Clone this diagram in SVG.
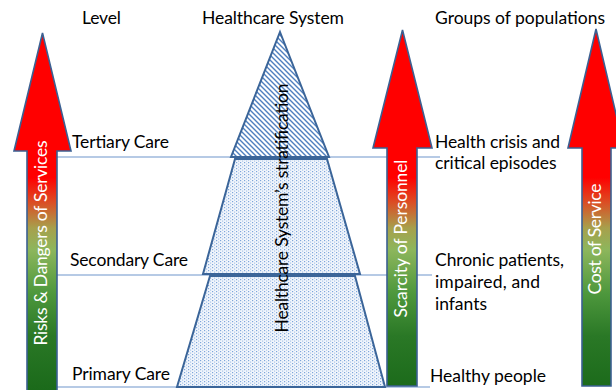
<svg xmlns="http://www.w3.org/2000/svg" width="616" height="390" viewBox="0 0 616 390">
<defs>
<style>
.t{font-family:Lato,"Liberation Sans",sans-serif;font-size:17.5px;fill:#000}
.w{font-family:Lato,"Liberation Sans",sans-serif;font-size:17.5px;fill:#fff}
.arrow{fill:url(#grad);stroke:#3B6092;stroke-width:1.6;stroke-linejoin:miter}
.tier{stroke:#3B6599;stroke-width:2;stroke-linejoin:miter}
.lvl{stroke:#6F96CC;stroke-width:1.2;fill:none}
</style>
<linearGradient id="grad" gradientUnits="userSpaceOnUse" x1="0" y1="30" x2="0" y2="390">
<stop offset="0" stop-color="#FF0000"/>
<stop offset="0.41" stop-color="#FF0000"/>
<stop offset="0.48" stop-color="#DA4F25"/>
<stop offset="0.55" stop-color="#A7A04C"/>
<stop offset="0.61" stop-color="#8DB65C"/>
<stop offset="0.73" stop-color="#4E983D"/>
<stop offset="0.85" stop-color="#2A7826"/>
<stop offset="1" stop-color="#1B6A1A"/>
</linearGradient>
<pattern id="hatch" width="5" height="5" patternUnits="userSpaceOnUse">
<rect width="5" height="5" fill="#fff"/>
<path d="M0,0 L5,5 M-1,4 L1,6 M4,-1 L6,1" stroke="#4F7FBF" stroke-width="1.4"/>
</pattern>
<pattern id="dots" width="4" height="3" patternUnits="userSpaceOnUse">
<rect width="4" height="3" fill="#F2F6FC"/>
<rect x="0" y="0" width="1.2" height="1.2" fill="#7FA6DA"/>
<rect x="2" y="1.5" width="1.2" height="1.2" fill="#A9C4E8"/>
</pattern>
</defs>

<g id="connectors">
<line class="lvl" x1="50" y1="157" x2="440" y2="157"/>
<line class="lvl" x1="50" y1="275" x2="432" y2="275"/>
<line class="lvl" x1="50" y1="387" x2="430" y2="387"/>
</g>

<g id="headers">
<text class="t" x="82" y="24" textLength="39">Level</text>
<text class="t" x="202" y="24" textLength="142">Healthcare System</text>
<text class="t" x="435" y="24" textLength="170">Groups of populations</text>
</g>

<g id="pyramid">
<polygon class="tier" fill="url(#dots)" points="210,276 355,276 385,387 177,387"/>
<polygon class="tier" fill="url(#dots)" points="235,159 327,159 360,274 203,274"/>
<polygon class="tier" fill="url(#hatch)" points="280,32 329,157 231,157"/>
<text class="t" transform="translate(288,208) rotate(-90)" text-anchor="middle" textLength="249">Healthcare System’s stratification</text>
</g>

<g id="arrow-risks">
<path class="arrow" d="M42.5,33 L71,151 L57,151 L57,392 L27,392 L27,151 L14,151 Z"/>
<text class="w" transform="translate(47,243) rotate(-90)" text-anchor="middle" textLength="205">Risks &amp; Dangers of Services</text>
</g>

<g id="arrow-scarcity">
<path class="arrow" d="M402.5,30 L432,148 L417,148 L417,386 L387,386 L387,148 L373,148 Z"/>
<text class="w" transform="translate(407,238.5) rotate(-90)" text-anchor="middle" textLength="158">Scarcity of Personnel</text>
</g>

<g id="arrow-cost">
<path class="arrow" d="M596,29 L624,148 L611,148 L611,386 L582,386 L582,148 L568,148 Z"/>
<text class="w" transform="translate(601,239) rotate(-90)" text-anchor="middle" textLength="111">Cost of Service</text>
</g>

<g id="level-tertiary">
<text class="t" x="72" y="148" textLength="97">Tertiary Care</text>
</g>
<g id="level-secondary">
<text class="t" x="70" y="266" textLength="118">Secondary Care</text>
</g>
<g id="level-primary">
<text class="t" x="72" y="380" textLength="98">Primary Care</text>
</g>

<g id="group-crisis">
<text class="t" x="435" y="148" textLength="125">Health crisis and</text>
<text class="t" x="435" y="169" textLength="121.5">critical episodes</text>
</g>
<g id="group-chronic">
<text class="t" x="435" y="266" textLength="129">Chronic patients,</text>
<text class="t" x="435" y="288" textLength="105">impaired, and</text>
<text class="t" x="435" y="310" textLength="52">infants</text>
</g>
<g id="group-healthy">
<text class="t" x="430" y="382" textLength="116">Healthy people</text>
</g>
</svg>
